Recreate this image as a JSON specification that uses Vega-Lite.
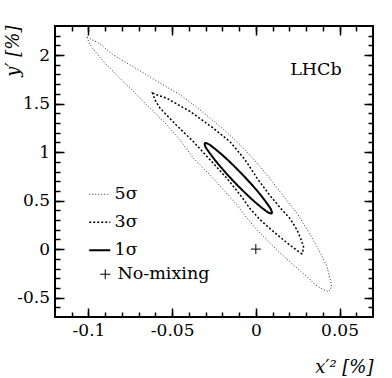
{
  "$schema": "https://vega.github.io/schema/vega-lite/v6.json",
  "width": 318,
  "height": 291,
  "autosize": {"type": "none"},
  "padding": {"left": 55, "top": 26, "right": 19, "bottom": 61},
  "background": "white",
  "config": {
    "view": {"stroke": "black", "strokeWidth": 2},
    "axis": {"grid": false, "domain": false, "tickColor": "black", "tickWidth": 1.5, "labelFont": "DejaVu Serif", "labelFontSize": 17, "labelColor": "black", "labelPadding": 14.5, "labelFlush": false, "labelOverlap": false, "titleFont": "DejaVu Serif", "titleFontSize": 18, "titleFontStyle": "italic", "titleFontWeight": "normal", "titleColor": "black"},
    "legend": {"labelFont": "DejaVu Serif", "labelFontSize": 17.5, "labelColor": "black", "padding": 0, "rowPadding": 9, "titlePadding": 0}
  },
  "datasets": {
    "contours": [
      {"level": "5σ", "i": 0, "x": -0.1008, "y": 2.186},
      {"level": "5σ", "i": 1, "x": -0.0932, "y": 2.116},
      {"level": "5σ", "i": 2, "x": -0.0853, "y": 2.003},
      {"level": "5σ", "i": 3, "x": -0.0753, "y": 1.900},
      {"level": "5σ", "i": 4, "x": -0.0653, "y": 1.797},
      {"level": "5σ", "i": 5, "x": -0.0555, "y": 1.694},
      {"level": "5σ", "i": 6, "x": -0.0453, "y": 1.591},
      {"level": "5σ", "i": 7, "x": -0.0364, "y": 1.477},
      {"level": "5σ", "i": 8, "x": -0.0274, "y": 1.351},
      {"level": "5σ", "i": 9, "x": -0.0184, "y": 1.220},
      {"level": "5σ", "i": 10, "x": -0.0094, "y": 1.075},
      {"level": "5σ", "i": 11, "x": -0.0004, "y": 0.910},
      {"level": "5σ", "i": 12, "x": 0.0066, "y": 0.766},
      {"level": "5σ", "i": 13, "x": 0.0164, "y": 0.549},
      {"level": "5σ", "i": 14, "x": 0.0246, "y": 0.371},
      {"level": "5σ", "i": 15, "x": 0.0307, "y": 0.199},
      {"level": "5σ", "i": 16, "x": 0.0365, "y": 0.027},
      {"level": "5σ", "i": 17, "x": 0.0397, "y": -0.079},
      {"level": "5σ", "i": 18, "x": 0.0425, "y": -0.179},
      {"level": "5σ", "i": 19, "x": 0.0445, "y": -0.316},
      {"level": "5σ", "i": 20, "x": 0.0454, "y": -0.389},
      {"level": "5σ", "i": 21, "x": 0.0435, "y": -0.440},
      {"level": "5σ", "i": 22, "x": 0.0405, "y": -0.420},
      {"level": "5σ", "i": 23, "x": 0.0355, "y": -0.368},
      {"level": "5σ", "i": 24, "x": 0.0305, "y": -0.282},
      {"level": "5σ", "i": 25, "x": 0.0223, "y": -0.162},
      {"level": "5σ", "i": 26, "x": 0.0146, "y": -0.041},
      {"level": "5σ", "i": 27, "x": 0.0074, "y": 0.080},
      {"level": "5σ", "i": 28, "x": 0.0006, "y": 0.199},
      {"level": "5σ", "i": 29, "x": -0.0064, "y": 0.343},
      {"level": "5σ", "i": 30, "x": -0.0114, "y": 0.457},
      {"level": "5σ", "i": 31, "x": -0.0214, "y": 0.653},
      {"level": "5σ", "i": 32, "x": -0.0293, "y": 0.797},
      {"level": "5σ", "i": 33, "x": -0.0374, "y": 0.938},
      {"level": "5σ", "i": 34, "x": -0.0453, "y": 1.127},
      {"level": "5σ", "i": 35, "x": -0.0543, "y": 1.302},
      {"level": "5σ", "i": 36, "x": -0.0653, "y": 1.488},
      {"level": "5σ", "i": 37, "x": -0.0723, "y": 1.611},
      {"level": "5σ", "i": 38, "x": -0.0793, "y": 1.728},
      {"level": "5σ", "i": 39, "x": -0.0892, "y": 1.900},
      {"level": "5σ", "i": 40, "x": -0.0944, "y": 2.003},
      {"level": "5σ", "i": 41, "x": -0.0992, "y": 2.106},
      {"level": "3σ", "i": 0, "x": -0.0617, "y": 1.608},
      {"level": "3σ", "i": 1, "x": -0.0585, "y": 1.586},
      {"level": "3σ", "i": 2, "x": -0.0533, "y": 1.557},
      {"level": "3σ", "i": 3, "x": -0.0393, "y": 1.419},
      {"level": "3σ", "i": 4, "x": -0.0254, "y": 1.247},
      {"level": "3σ", "i": 5, "x": -0.0154, "y": 1.106},
      {"level": "3σ", "i": 6, "x": -0.0064, "y": 0.921},
      {"level": "3σ", "i": 7, "x": 0.0014, "y": 0.714},
      {"level": "3σ", "i": 8, "x": 0.0086, "y": 0.549},
      {"level": "3σ", "i": 9, "x": 0.0146, "y": 0.426},
      {"level": "3σ", "i": 10, "x": 0.0205, "y": 0.312},
      {"level": "3σ", "i": 11, "x": 0.0246, "y": 0.199},
      {"level": "3σ", "i": 12, "x": 0.0271, "y": 0.096},
      {"level": "3σ", "i": 13, "x": 0.0285, "y": 0.027},
      {"level": "3σ", "i": 14, "x": 0.0280, "y": -0.028},
      {"level": "3σ", "i": 15, "x": 0.0275, "y": -0.048},
      {"level": "3σ", "i": 16, "x": 0.0241, "y": -0.007},
      {"level": "3σ", "i": 17, "x": 0.0205, "y": 0.039},
      {"level": "3σ", "i": 18, "x": 0.0146, "y": 0.122},
      {"level": "3σ", "i": 19, "x": 0.0086, "y": 0.209},
      {"level": "3σ", "i": 20, "x": 0.0026, "y": 0.302},
      {"level": "3σ", "i": 21, "x": -0.0034, "y": 0.415},
      {"level": "3σ", "i": 22, "x": -0.0094, "y": 0.560},
      {"level": "3σ", "i": 23, "x": -0.0174, "y": 0.732},
      {"level": "3σ", "i": 24, "x": -0.0274, "y": 0.921},
      {"level": "3σ", "i": 25, "x": -0.0374, "y": 1.109},
      {"level": "3σ", "i": 26, "x": -0.0477, "y": 1.281},
      {"level": "3σ", "i": 27, "x": -0.0573, "y": 1.454},
      {"level": "3σ", "i": 28, "x": -0.0603, "y": 1.539},
      {"level": "1σ", "i": 0, "x": 0.0095, "y": 0.370},
      {"level": "1σ", "i": 1, "x": 0.0094, "y": 0.393},
      {"level": "1σ", "i": 2, "x": 0.0080, "y": 0.438},
      {"level": "1σ", "i": 3, "x": 0.0016, "y": 0.585},
      {"level": "1σ", "i": 4, "x": -0.0081, "y": 0.770},
      {"level": "1σ", "i": 5, "x": -0.0184, "y": 0.945},
      {"level": "1σ", "i": 6, "x": -0.0266, "y": 1.063},
      {"level": "1σ", "i": 7, "x": -0.0292, "y": 1.090},
      {"level": "1σ", "i": 8, "x": -0.0304, "y": 1.092},
      {"level": "1σ", "i": 9, "x": -0.0304, "y": 1.069},
      {"level": "1σ", "i": 10, "x": -0.0290, "y": 1.024},
      {"level": "1σ", "i": 11, "x": -0.0225, "y": 0.877},
      {"level": "1σ", "i": 12, "x": -0.0129, "y": 0.692},
      {"level": "1σ", "i": 13, "x": -0.0025, "y": 0.516},
      {"level": "1σ", "i": 14, "x": 0.0056, "y": 0.399},
      {"level": "1σ", "i": 15, "x": 0.0082, "y": 0.372}
    ],
    "nomix": [{"kind": "No-mixing", "x": 0, "y": 0}],
    "label": [{"label": "LHCb"}]
  },
  "resolve": {"axis": {"x": "independent", "y": "independent"}},
  "layer": [
    {
      "data": {"name": "contours"},
      "transform": [{"filter": "datum.level === '5σ'"}],
      "mark": {"type": "line", "interpolate": "linear-closed", "strokeWidth": 1},
      "encoding": {
        "x": {"field": "x", "type": "quantitative", "scale": {"domain": [-0.12, 0.07], "nice": false, "zero": false},
          "axis": {"orient": "bottom", "zindex": 5, "values": [-0.1, -0.05, 0, 0.05], "tickSize": -9, "labelExpr": "toString(datum.value)", "title": "x′² [%]", "titleX": 318, "titleY": 55, "titleAlign": "right", "titleAnchor": "end", "titleBaseline": "alphabetic", "titleAngle": 0}},
        "y": {"field": "y", "type": "quantitative", "scale": {"domain": [-0.7, 2.3], "nice": false, "zero": false},
          "axis": {"orient": "left", "zindex": 5, "values": [-0.5, 0, 0.5, 1, 1.5, 2], "tickSize": -9, "labelExpr": "toString(datum.value)", "title": "y′ [%]", "titleX": -37, "titleY": -1, "titleAngle": -90, "titleAlign": "right", "titleAnchor": "end", "titleBaseline": "alphabetic"}},
        "order": {"field": "i", "type": "quantitative"},
        "color": {"field": "level", "type": "nominal", "scale": {"domain": ["5σ", "3σ", "1σ"], "range": ["#333333", "#000000", "#000000"]},
          "legend": {"title": null, "orient": "none", "legendX": 36, "legendY": 159.5, "symbolType": "stroke", "symbolSize": 441, "labelOffset": 6, "encode": {"symbols": {"update": {"strokeWidth": {"signal": "datum.value === '1σ' ? 2 : datum.value === '3σ' ? 1.5 : 1"}}}}}},
        "strokeDash": {"field": "level", "type": "nominal", "scale": {"domain": ["5σ", "3σ", "1σ"], "range": [[1, 2], [2, 2], [1, 0]]},
          "legend": {"title": null, "orient": "none", "legendX": 36, "legendY": 159.5, "symbolType": "stroke", "symbolSize": 441, "labelOffset": 6, "encode": {"symbols": {"update": {"strokeWidth": {"signal": "datum.value === '1σ' ? 2 : datum.value === '3σ' ? 1.5 : 1"}}}}}}
      }
    },
    {
      "data": {"name": "contours"},
      "transform": [{"filter": "datum.level === '3σ'"}],
      "mark": {"type": "line", "interpolate": "linear-closed", "strokeWidth": 1.5},
      "encoding": {
        "x": {"field": "x", "type": "quantitative", "scale": {"domain": [-0.12, 0.07], "nice": false, "zero": false},
          "axis": {"orient": "bottom", "zindex": 5, "values": [-0.11, -0.1, -0.09, -0.08, -0.07, -0.06, -0.05, -0.04, -0.03, -0.02, -0.01, 0, 0.01, 0.02, 0.03, 0.04, 0.05, 0.06], "tickSize": -5, "labels": false, "title": null}},
        "y": {"field": "y", "type": "quantitative", "scale": {"domain": [-0.7, 2.3], "nice": false, "zero": false},
          "axis": {"orient": "left", "zindex": 5, "values": [-0.6, -0.5, -0.4, -0.3, -0.2, -0.1, 0, 0.1, 0.2, 0.3, 0.4, 0.5, 0.6, 0.7, 0.8, 0.9, 1, 1.1, 1.2, 1.3, 1.4, 1.5, 1.6, 1.7, 1.8, 1.9, 2, 2.1, 2.2], "tickSize": -5, "labels": false, "title": null}},
        "order": {"field": "i", "type": "quantitative"},
        "color": {"field": "level", "type": "nominal", "scale": {"domain": ["5σ", "3σ", "1σ"], "range": ["#333333", "#000000", "#000000"]}},
        "strokeDash": {"field": "level", "type": "nominal", "scale": {"domain": ["5σ", "3σ", "1σ"], "range": [[1, 2], [2, 2], [1, 0]]}}
      }
    },
    {
      "data": {"name": "contours"},
      "transform": [{"filter": "datum.level === '1σ'"}],
      "mark": {"type": "line", "interpolate": "cardinal-closed", "strokeWidth": 2},
      "encoding": {
        "x": {"field": "x", "type": "quantitative", "scale": {"domain": [-0.12, 0.07], "nice": false, "zero": false},
          "axis": {"orient": "top", "zindex": 5, "tickColor": "black", "tickWidth": 1.5, "values": [-0.1, -0.05, 0, 0.05], "tickSize": -9, "labels": false, "title": null}},
        "y": {"field": "y", "type": "quantitative", "scale": {"domain": [-0.7, 2.3], "nice": false, "zero": false},
          "axis": {"orient": "right", "zindex": 5, "tickColor": "black", "tickWidth": 1.5, "values": [-0.5, 0, 0.5, 1, 1.5, 2], "tickSize": -9, "labels": false, "title": null}},
        "order": {"field": "i", "type": "quantitative"},
        "color": {"field": "level", "type": "nominal", "scale": {"domain": ["5σ", "3σ", "1σ"], "range": ["#333333", "#000000", "#000000"]}},
        "strokeDash": {"field": "level", "type": "nominal", "scale": {"domain": ["5σ", "3σ", "1σ"], "range": [[1, 2], [2, 2], [1, 0]]}}
      }
    },
    {
      "data": {"name": "nomix"},
      "mark": {"type": "point", "filled": false, "size": 100, "strokeWidth": 1, "color": "black", "opacity": 1},
      "encoding": {
        "x": {"field": "x", "type": "quantitative", "scale": {"domain": [-0.12, 0.07], "nice": false, "zero": false},
          "axis": {"orient": "top", "zindex": 5, "tickColor": "black", "tickWidth": 1.5, "values": [-0.11, -0.1, -0.09, -0.08, -0.07, -0.06, -0.05, -0.04, -0.03, -0.02, -0.01, 0, 0.01, 0.02, 0.03, 0.04, 0.05, 0.06], "tickSize": -5, "labels": false, "title": null}},
        "y": {"field": "y", "type": "quantitative", "scale": {"domain": [-0.7, 2.3], "nice": false, "zero": false},
          "axis": {"orient": "right", "zindex": 5, "tickColor": "black", "tickWidth": 1.5, "values": [-0.6, -0.5, -0.4, -0.3, -0.2, -0.1, 0, 0.1, 0.2, 0.3, 0.4, 0.5, 0.6, 0.7, 0.8, 0.9, 1, 1.1, 1.2, 1.3, 1.4, 1.5, 1.6, 1.7, 1.8, 1.9, 2, 2.1, 2.2], "tickSize": -5, "labels": false, "title": null}},
        "shape": {"field": "kind", "type": "nominal", "scale": {"domain": ["No-mixing"], "range": ["M-1,0H1M0,-1V1"]},
          "legend": {"title": null, "orient": "none", "legendX": 41.5, "legendY": 239.5, "symbolSize": 100, "labelOffset": 3.5, "symbolStrokeWidth": 1, "symbolStrokeColor": "black", "symbolFillColor": "transparent"}}
      }
    },
    {
      "data": {"name": "label"},
      "mark": {"type": "text", "font": "DejaVu Serif", "fontSize": 17.5, "align": "left", "baseline": "alphabetic", "color": "black"},
      "encoding": {
        "x": {"datum": 0.0205, "type": "quantitative", "axis": null},
        "y": {"datum": 1.797, "type": "quantitative", "axis": null},
        "text": {"field": "label", "type": "nominal"}
      }
    }
  ]
}
